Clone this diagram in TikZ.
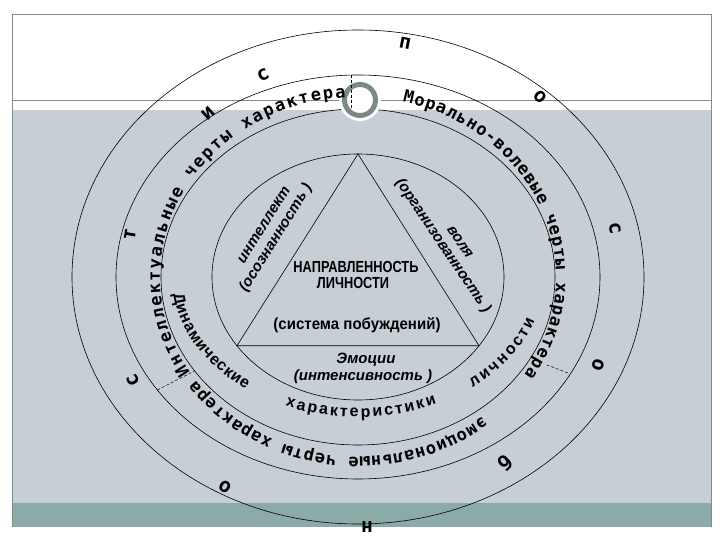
\documentclass[tikz,border=0pt]{standalone}
\usepackage{fontspec}
\setmainfont{Liberation Sans}
\newfontfamily\ringfont{DejaVu Sans Mono}
\usepackage{tikz}
\usetikzlibrary{decorations.text}

\definecolor{slide}{RGB}{197,207,213}
\definecolor{band}{RGB}{139,170,168}
\definecolor{framegray}{RGB}{128,140,140}
\definecolor{knobgray}{RGB}{122,138,136}

\newcommand{\ringfmt}{\ringfont\bfseries\fontsize{17}{17}\selectfont}
\newcommand{\wordfmt}{\bfseries\fontsize{16}{16}\selectfont}

\begin{document}
\begin{tikzpicture}[
            x = 1pt, y = 1pt, % one unit = one pixel
            ring/.style = {black, line width=0.6pt},
            cut/.style = {black, densely dashed, line width=0.5pt},
            core/.style = {font=\bfseries\fontsize{16}{16}\selectfont, inner sep=0pt},
            side/.style = {font=\bfseries\itshape\fontsize{15}{15}\selectfont, inner sep=0pt},
            letter/.style = {font=\ringfont\bfseries\fontsize{20}{20}\selectfont, inner sep=0pt},
            arctext/.style = {decorate, decoration={text along path,
            text align={fit to path}, text={#1}}}
            ]
            \useasboundingbox (-358,-263) rectangle (362,277);
            % slide background
            \fill[white] (-358,-263) rectangle (362,277);
            \fill[slide] (-346,167) rectangle (353,-226);
            \fill[band] (-346,-226) rectangle (353,-250);
            \draw[framegray, line width=0.8pt] (-346,-250) -- (-346,263) -- (353,263) -- (353,-250);
            \draw[framegray, line width=0.8pt] (-346,177) -- (353,177);

            % rings
            \draw[ring] (0,0) ellipse [x radius=286, y radius=247];
            \draw[ring] (0,0) ellipse [x radius=242, y radius=202];
            \draw[ring] (0,0) ellipse [x radius=197, y radius=168];
            \draw[ring] (0,0) ellipse [x radius=146, y radius=123];

            % triangle
            \coordinate (apex) at (90:146 and 123);
            \coordinate (baseL) at (214:146 and 123);
            \coordinate (baseR) at (326:146 and 123);
            \draw[ring] (apex) -- (baseL) -- (baseR) -- cycle;

            % knob on top
            \coordinate (knob) at (2,177);
            \fill[white] (knob) circle [radius=21];
            \draw[knobgray, line width=5pt] (knob) circle [radius=15.5];

            % separators
            \coordinate (cutTa) at (-7,202);
            \coordinate (cutTb) at (-7,168);
            \coordinate (cutLa) at (214:242 and 202);
            \coordinate (cutLb) at (214:197 and 168);
            \coordinate (cutRa) at (210,-96);
            \coordinate (cutRb) at (189,-88);
            \draw[cut] (cutTa) -- (cutTb);
            \draw[cut] (cutLa) -- (cutLb);
            \draw[cut] (cutRa) -- (cutRb);

            % centre
            \node[core, xscale=0.8] (dirA) at (-2,10) {НАПРАВЛЕННОСТЬ};
            \node[core, xscale=0.8] (dirB) at (-5,-6) {ЛИЧНОСТИ};
            \node[core, xscale=0.94] (motive) at (-1,-48) {(система побуждений)};

            \node[side, rotate=58] (intA) at (-94,52) {интеллект};
            \node[side, rotate=58] (intB) at (-82,39) {(осознанность )};
            \node[side, rotate=-56] (willA) at (102,35) {воля};
            \node[side, rotate=-56] (willB) at (85,31) {(организованность )};
            \node[side] (emoA) at (8,-83) {Эмоции};
            \node[side] (emoB) at (5,-100) {(интенсивность )};

            % inner ring words
            \path[arctext={|\wordfmt|Динамические}]
            (187:186 and 140) arc [start angle=187, end angle=233, x radius=186, y radius=140];
            \path[arctext={|\wordfmt|характеристики}]
            (247:186 and 140) arc [start angle=247, end angle=295, x radius=186, y radius=140];
            \path[arctext={|\wordfmt|личности}]
            (308:186 and 140) arc [start angle=308, end angle=342, x radius=186, y radius=140];

            % outer ring phrases
            \path[arctext={|\ringfmt|Интеллектуальные черты характера}]
            (212:198 and 180) arc [start angle=212, end angle=93.5, x radius=198, y radius=180];
            \path[arctext={|\ringfmt|Морально-волевые черты характера}]
            (77:198 and 180) arc [start angle=77, end angle=-33, x radius=198, y radius=180];
            \path[arctext={|\ringfmt|эмоциональные черты характера}]
            (-51:198 and 180) arc [start angle=-51, end angle=-145, x radius=198, y radius=180];

            % letters round the outside
            \node[letter, rotate=25] (s1) at (-95,202) {с};
            \node[letter, rotate=-11] (p1) at (47,234) {п};
            \node[letter, rotate=-45] (o1) at (182,180) {о};
            \node[letter, rotate=-79] (s2) at (257,49) {с};
            \node[letter, rotate=-110] (o2) at (240,-88) {о};
            \node[letter, rotate=-142] (b1) at (147,-186) {б};
            \node[letter, rotate=180] (n1) at (9,-250) {н};
            \node[letter, rotate=148] (o3) at (-133,-210) {о};
            \node[letter, rotate=115] (s3) at (-225,-103) {с};
            \node[letter, rotate=80] (t1) at (-228,42) {т};
            \node[letter, rotate=42] (i1) at (-150,164) {и};
        \end{tikzpicture}
\end{document}
